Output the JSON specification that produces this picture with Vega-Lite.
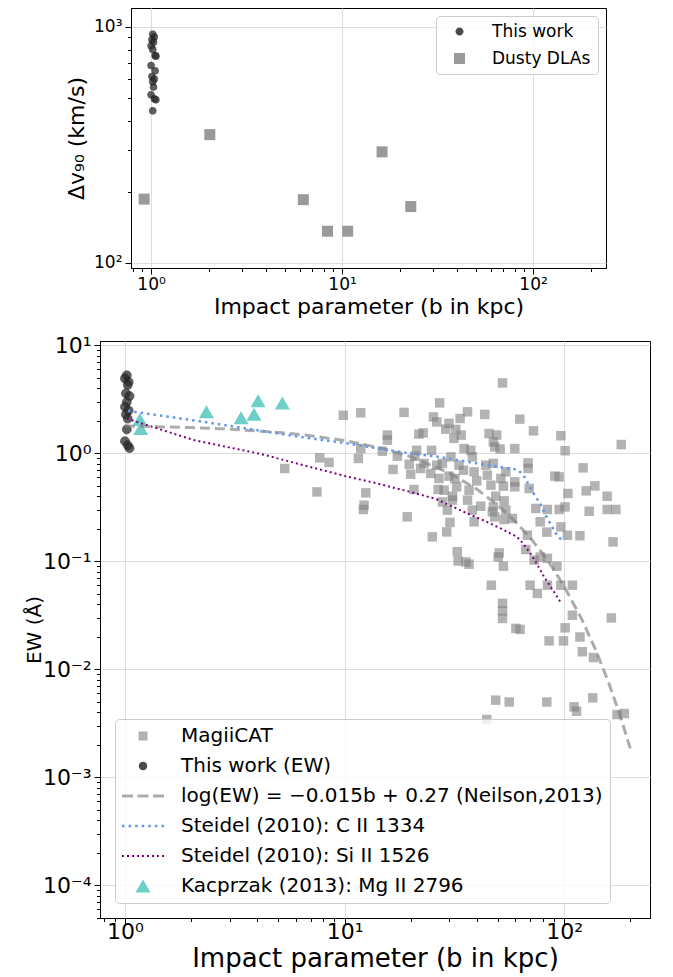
{
  "$schema": "https://vega.github.io/schema/vega-lite/v6.json",
  "padding": {"left": 24, "top": 7, "right": 5, "bottom": 3},
  "config": {
    "font": "DejaVu Sans",
    "view": {"stroke": "black", "strokeWidth": 1},
    "axis": {"domainColor": "black", "tickColor": "black", "labelColor": "black", "titleColor": "black", "gridColor": "#dddddd", "gridWidth": 1, "titleFontWeight": "normal", "labelOverlap": false, "labelFlush": false, "labelBound": false},
    "legend": {"labelColor": "black"}
  },
  "datasets": {
    "topWork": [{"b":1.02,"v":930},{"b":1.04,"v":905},{"b":1.01,"v":880},{"b":1.03,"v":860},{"b":1.0,"v":830},{"b":1.02,"v":800},{"b":1.05,"v":755},{"b":1.06,"v":750},{"b":1.0,"v":685},{"b":1.05,"v":650},{"b":1.01,"v":615},{"b":1.04,"v":600},{"b":1.02,"v":585},{"b":1.03,"v":555},{"b":1.0,"v":515},{"b":1.04,"v":495},{"b":1.06,"v":490},{"b":1.02,"v":440}],
    "topDLA": [{"b":0.92,"v":186},{"b":2.03,"v":349},{"b":6.27,"v":185},{"b":8.39,"v":136},{"b":10.7,"v":136},{"b":16.2,"v":295},{"b":22.9,"v":173}],
    "thisEW": [{"b":1.02,"ew":5.3},{"b":1.0,"ew":4.95},{"b":1.04,"ew":4.6},{"b":1.03,"ew":4.3},{"b":1.01,"ew":3.6},{"b":1.05,"ew":3.4},{"b":1.02,"ew":3.0},{"b":1.0,"ew":2.7},{"b":1.04,"ew":2.5},{"b":1.01,"ew":2.3},{"b":1.03,"ew":2.1},{"b":1.02,"ew":1.67},{"b":1.0,"ew":1.3},{"b":1.03,"ew":1.19},{"b":1.05,"ew":1.12}],
    "kac": [{"b":1.17,"ew":2.06},{"b":1.18,"ew":1.70},{"b":2.35,"ew":2.43},{"b":3.38,"ew":2.14},{"b":3.87,"ew":2.31},{"b":4.04,"ew":3.07},{"b":5.21,"ew":2.94}],
    "neilson": [{"b":1,"ew":1.799},{"b":2,"ew":1.738},{"b":3,"ew":1.679},{"b":5,"ew":1.567},{"b":7,"ew":1.462},{"b":10,"ew":1.318},{"b":15,"ew":1.109},{"b":20,"ew":0.933},{"b":30,"ew":0.661},{"b":40,"ew":0.468},{"b":50,"ew":0.331},{"b":60,"ew":0.234},{"b":70,"ew":0.166},{"b":80,"ew":0.1175},{"b":90,"ew":0.0832},{"b":100,"ew":0.0589},{"b":120,"ew":0.0295},{"b":140,"ew":0.01479},{"b":160,"ew":0.00741},{"b":180,"ew":0.00372},{"b":200,"ew":0.00186}],
    "c2": [{"b":1.03,"ew":2.48},{"b":2.3,"ew":1.96},{"b":5.9,"ew":1.45},{"b":10,"ew":1.25},{"b":16,"ew":1.07},{"b":20,"ew":1.0},{"b":26,"ew":0.94},{"b":40,"ew":0.81},{"b":53,"ew":0.74},{"b":61,"ew":0.71},{"b":65,"ew":0.64},{"b":69,"ew":0.51},{"b":74,"ew":0.40},{"b":78,"ew":0.34},{"b":83,"ew":0.26},{"b":92,"ew":0.18},{"b":98,"ew":0.155}],
    "si2": [{"b":1.02,"ew":2.1},{"b":2.06,"ew":1.33},{"b":4.15,"ew":0.99},{"b":10,"ew":0.62},{"b":14,"ew":0.53},{"b":20,"ew":0.44},{"b":26,"ew":0.38},{"b":36,"ew":0.28},{"b":44,"ew":0.235},{"b":52,"ew":0.2},{"b":61,"ew":0.169},{"b":65,"ew":0.147},{"b":71,"ew":0.115},{"b":78,"ew":0.083},{"b":81,"ew":0.072},{"b":89,"ew":0.054},{"b":97,"ew":0.041}],
    "magii": [
      {"b":5.34,"ew":0.726},{"b":7.49,"ew":0.441},{"b":7.71,"ew":0.911},{"b":8.5,"ew":0.826},{"b":9.87,"ew":2.26},{"b":11.85,"ew":2.38},{"b":11.56,"ew":0.899},{"b":11.85,"ew":1.11},{"b":12.5,"ew":0.432},{"b":12.27,"ew":0.332},{"b":12.18,"ew":0.303},{"b":14.86,"ew":1.05},{"b":15.67,"ew":1.48},{"b":15.67,"ew":1.33},{"b":16.63,"ew":0.711},{"b":18.66,"ew":2.4},{"b":21.8,"ew":1.51},{"b":22.8,"ew":1.55},{"b":17.4,"ew":0.944},{"b":19.7,"ew":0.796},{"b":21.3,"ew":1.07},{"b":20.9,"ew":0.944},{"b":20.0,"ew":0.643},{"b":22.2,"ew":0.726},{"b":23.0,"ew":0.808},{"b":24.9,"ew":1.07},{"b":24.7,"ew":0.653},{"b":20.7,"ew":0.464},{"b":19.3,"ew":0.259},{"b":25.4,"ew":2.18},{"b":25.1,"ew":0.169},{"b":52.4,"ew":4.5},{"b":27.1,"ew":2.94},{"b":36.3,"ew":2.43},{"b":43.5,"ew":2.3},{"b":26.3,"ew":1.96},{"b":29.9,"ew":1.9},{"b":28.9,"ew":1.68},{"b":33.6,"ew":2.11},{"b":32.1,"ew":1.67},{"b":34.0,"ew":1.48},{"b":31.5,"ew":1.38},{"b":45.5,"ew":1.53},{"b":49.3,"ew":1.48},{"b":47.6,"ew":1.28},{"b":48.3,"ew":1.15},{"b":51.1,"ew":1.10},{"b":62.8,"ew":2.08},{"b":72.5,"ew":1.62},{"b":59.6,"ew":1.11},{"b":35.0,"ew":1.11},{"b":37.6,"ew":1.07},{"b":38.2,"ew":0.93},{"b":30.5,"ew":0.93},{"b":27.9,"ew":0.81},{"b":33.2,"ew":0.78},{"b":34.8,"ew":0.70},{"b":38.9,"ew":0.676},{"b":26.3,"ew":0.78},{"b":26.9,"ew":0.587},{"b":29.9,"ew":0.617},{"b":31.8,"ew":0.587},{"b":44.0,"ew":0.78},{"b":47.6,"ew":0.81},{"b":44.7,"ew":0.63},{"b":40.0,"ew":0.557},{"b":51.5,"ew":0.587},{"b":54.3,"ew":0.676},{"b":68.5,"ew":0.818},{"b":68.5,"ew":0.726},{"b":59.6,"ew":0.546},{"b":59.6,"ew":0.491},{"b":69.3,"ew":0.474},{"b":46.4,"ew":0.509},{"b":52.9,"ew":0.498},{"b":32.4,"ew":0.491},{"b":36.9,"ew":0.457},{"b":26.7,"ew":0.464},{"b":28.4,"ew":0.457},{"b":31.0,"ew":0.402},{"b":31.0,"ew":0.37},{"b":48.8,"ew":0.402},{"b":53.3,"ew":0.364},{"b":27.9,"ew":0.356},{"b":36.3,"ew":0.37},{"b":41.7,"ew":0.325},{"b":47.6,"ew":0.32},{"b":47.1,"ew":0.288},{"b":54.3,"ew":0.299},{"b":29.4,"ew":0.299},{"b":38.2,"ew":0.299},{"b":48.3,"ew":0.259},{"b":53.3,"ew":0.245},{"b":58.1,"ew":0.25},{"b":38.9,"ew":0.233},{"b":30.2,"ew":0.23},{"b":29.2,"ew":0.188},{"b":68.0,"ew":0.175},{"b":74.3,"ew":0.31},{"b":77.8,"ew":0.233},{"b":96.6,"ew":1.46},{"b":101,"ew":1.06},{"b":182,"ew":1.21},{"b":122,"ew":0.736},{"b":90.7,"ew":0.617},{"b":94.9,"ew":0.607},{"b":138,"ew":0.501},{"b":126,"ew":0.451},{"b":104,"ew":0.426},{"b":157,"ew":0.402},{"b":83.9,"ew":0.303},{"b":94.9,"ew":0.303},{"b":101,"ew":0.32},{"b":130,"ew":0.292},{"b":157,"ew":0.303},{"b":172,"ew":0.303},{"b":96.6,"ew":0.209},{"b":83.4,"ew":0.187},{"b":103.5,"ew":0.175},{"b":118,"ew":0.173},{"b":167,"ew":0.152},{"b":32.6,"ew":0.123},{"b":32.9,"ew":0.101},{"b":35.7,"ew":0.099},{"b":36.9,"ew":0.0944},{"b":50.6,"ew":0.120},{"b":50.1,"ew":0.110},{"b":52.9,"ew":0.0905},{"b":46.6,"ew":0.0603},{"b":70.0,"ew":0.0603},{"b":75.5,"ew":0.0506},{"b":52.4,"ew":0.0409},{"b":52.4,"ew":0.0349},{"b":52.4,"ew":0.0297},{"b":60.3,"ew":0.024},{"b":63.0,"ew":0.0235},{"b":48.8,"ew":0.0052},{"b":56.2,"ew":0.0050},{"b":83.4,"ew":0.0050},{"b":44.4,"ew":0.00344},{"b":66.9,"ew":0.129},{"b":73.0,"ew":0.103},{"b":77.8,"ew":0.110},{"b":83.9,"ew":0.107},{"b":92.7,"ew":0.0905},{"b":83.9,"ew":0.0603},{"b":96.6,"ew":0.0603},{"b":109,"ew":0.0603},{"b":109,"ew":0.0318},{"b":164,"ew":0.030},{"b":101,"ew":0.0243},{"b":85.4,"ew":0.0184},{"b":99.3,"ew":0.0184},{"b":118,"ew":0.020},{"b":121,"ew":0.0146},{"b":136,"ew":0.0129},{"b":135,"ew":0.00546},{"b":111,"ew":0.00451},{"b":114,"ew":0.00411},{"b":174,"ew":0.00383},{"b":188,"ew":0.00391}
    ],
    "legendTop": [],
    "legendBottom": []
  },
  "vconcat": [
    {
      "hconcat": [
        {"width": 1, "height": 260, "data": {"values": []}, "mark": "point", "view": {"stroke": null}},
        {
          "width": 475, "height": 260,
          "layer": [
            {
              "data": {"name": "topDLA"},
              "mark": {"type": "point", "shape": "square", "filled": true, "size": 121, "color": "#9a9a9a", "opacity": 1},
              "encoding": {
                "x": {"field": "b", "type": "quantitative", "scale": {"type": "log", "domain": [0.785, 241], "nice": false},
                  "axis": {"title": "Impact parameter (b in kpc)", "titleFontSize": 22, "titlePadding": 4,
                    "values": [0.8,0.9,1,2,3,4,5,6,7,8,9,10,20,30,40,50,60,70,80,90,100,200],
                    "labelExpr": "abs(log(datum.value)/LN10 - round(log(datum.value)/LN10)) < 0.001 ? '10' + replace(replace(replace(replace(replace(replace('' + round(log(datum.value)/LN10), '-', '⁻'), '0', '⁰'), '1', '¹'), '2', '²'), '3', '³'), '4', '⁴') : ''",
                    "labelFontSize": 17, "labelPadding": 2, "grid": true,
                    "gridOpacity": {"condition": {"test": "abs(log(datum.value)/LN10 - round(log(datum.value)/LN10)) < 0.001", "value": 1}, "value": 0},
                    "tickSize": {"condition": {"test": "abs(log(datum.value)/LN10 - round(log(datum.value)/LN10)) < 0.001", "value": 6}, "value": 3.5}}},
                "y": {"field": "v", "type": "quantitative", "scale": {"type": "log", "domain": [95, 1200], "nice": false},
                  "axis": {"title": "Δv₉₀ (km/s)", "titleFontSize": 22, "titlePadding": 5,
                    "values": [100,200,300,400,500,600,700,800,900,1000],
                    "labelExpr": "abs(log(datum.value)/LN10 - round(log(datum.value)/LN10)) < 0.001 ? '10' + replace(replace(replace(replace(replace(replace('' + round(log(datum.value)/LN10), '-', '⁻'), '0', '⁰'), '1', '¹'), '2', '²'), '3', '³'), '4', '⁴') : ''",
                    "labelFontSize": 17, "labelPadding": 3, "grid": true,
                    "gridOpacity": {"condition": {"test": "abs(log(datum.value)/LN10 - round(log(datum.value)/LN10)) < 0.001", "value": 1}, "value": 0},
                    "tickSize": {"condition": {"test": "abs(log(datum.value)/LN10 - round(log(datum.value)/LN10)) < 0.001", "value": 6}, "value": 3.5}}}
              }
            },
            {
              "data": {"name": "topWork"},
              "mark": {"type": "point", "shape": "circle", "filled": true, "size": 49, "color": "#2a2a2a", "opacity": 0.75, "stroke": "#111111", "strokeWidth": 0.6},
              "encoding": {"x": {"field": "b", "type": "quantitative"}, "y": {"field": "v", "type": "quantitative"}}
            },
            {
              "data": {"name": "legendTop"},
              "mark": {"type": "point", "filled": true, "opacity": 1},
              "encoding": {
                "color": {"field": "series", "type": "nominal",
                  "scale": {"domain": ["This work", "Dusty DLAs"], "range": ["#4a4a4a", "#9a9a9a"]},
                  "legend": {"title": null, "orient": "top-right", "offset": 8, "padding": 7, "labelFontSize": 17, "rowPadding": 9,
                    "symbolSize": 100, "symbolStrokeWidth": 0, "symbolOpacity": 1,
                    "symbolOffset": 8, "labelOffset": 24, "labelLimit": 400, "strokeColor": "#cccccc", "fillColor": "rgba(255,255,255,0.8)", "cornerRadius": 4}},
                "shape": {"field": "series", "type": "nominal",
                  "scale": {"domain": ["This work", "Dusty DLAs"], "range": ["M0.8,0A0.8,0.8,0,1,1,-0.8,0A0.8,0.8,0,1,1,0.8,0Z", "M-1.1,-1.1H1.1V1.1H-1.1Z"]}}
              }
            }
          ]
        }
      ],
      "spacing": -36,
      "resolve": {"scale": {"color": "independent", "shape": "independent"}, "legend": {"color": "independent", "shape": "independent"}}
    },
    {
      "width": 550, "height": 577,
      "layer": [
        {
          "data": {"name": "magii"},
          "mark": {"type": "point", "shape": "square", "filled": true, "size": 90, "color": "gray", "opacity": 0.6},
          "encoding": {
            "x": {"field": "b", "type": "quantitative", "scale": {"type": "log", "domain": [0.77, 246], "nice": false},
              "axis": {"title": "Impact parameter (b in kpc)", "titleFontSize": 26, "titlePadding": 3,
                "values": [0.8,0.9,1,2,3,4,5,6,7,8,9,10,20,30,40,50,60,70,80,90,100,200],
                "labelExpr": "abs(log(datum.value)/LN10 - round(log(datum.value)/LN10)) < 0.001 ? '10' + replace(replace(replace(replace(replace(replace('' + round(log(datum.value)/LN10), '-', '⁻'), '0', '⁰'), '1', '¹'), '2', '²'), '3', '³'), '4', '⁴') : ''",
                "labelFontSize": 22, "labelPadding": -2.5, "grid": true,
                "gridOpacity": {"condition": {"test": "abs(log(datum.value)/LN10 - round(log(datum.value)/LN10)) < 0.001", "value": 1}, "value": 0},
                "tickSize": {"condition": {"test": "abs(log(datum.value)/LN10 - round(log(datum.value)/LN10)) < 0.001", "value": 6}, "value": 3.5}}},
            "y": {"field": "ew", "type": "quantitative", "scale": {"type": "log", "domain": [0.00005, 11], "nice": false},
              "axis": {"title": "EW (Å)", "titleFontSize": 20, "titlePadding": -2,
                "values": [0.00005,0.00006,0.00007,0.00008,0.00009,0.0001,0.0002,0.0003,0.0004,0.0005,0.0006,0.0007,0.0008,0.0009,0.001,0.002,0.003,0.004,0.005,0.006,0.007,0.008,0.009,0.01,0.02,0.03,0.04,0.05,0.06,0.07,0.08,0.09,0.1,0.2,0.3,0.4,0.5,0.6,0.7,0.8,0.9,1,2,3,4,5,6,7,8,9,10],
                "labelExpr": "abs(log(datum.value)/LN10 - round(log(datum.value)/LN10)) < 0.001 ? '10' + replace(replace(replace(replace(replace(replace('' + round(log(datum.value)/LN10), '-', '⁻'), '0', '⁰'), '1', '¹'), '2', '²'), '3', '³'), '4', '⁴') : ''",
                "labelFontSize": 22, "labelPadding": 3, "grid": true,
                "gridOpacity": {"condition": {"test": "abs(log(datum.value)/LN10 - round(log(datum.value)/LN10)) < 0.001", "value": 1}, "value": 0},
                "tickSize": {"condition": {"test": "abs(log(datum.value)/LN10 - round(log(datum.value)/LN10)) < 0.001", "value": 6}, "value": 3.5}}}
          }
        },
        {
          "data": {"name": "thisEW"},
          "mark": {"type": "point", "shape": "circle", "filled": true, "size": 81, "color": "#2a2a2a", "opacity": 0.75, "stroke": "#111111", "strokeWidth": 0.6},
          "encoding": {"x": {"field": "b", "type": "quantitative"}, "y": {"field": "ew", "type": "quantitative"}}
        },
        {
          "data": {"name": "kac"},
          "mark": {"type": "point", "shape": "triangle-up", "filled": true, "size": 225, "color": "#6dcfc8", "opacity": 1},
          "encoding": {"x": {"field": "b", "type": "quantitative"}, "y": {"field": "ew", "type": "quantitative"}}
        },
        {
          "data": {"name": "neilson"},
          "mark": {"type": "line", "color": "gray", "opacity": 0.65, "strokeWidth": 3, "strokeDash": [10, 5]},
          "encoding": {"x": {"field": "b", "type": "quantitative"}, "y": {"field": "ew", "type": "quantitative"}}
        },
        {
          "data": {"name": "c2"},
          "mark": {"type": "line", "color": "cornflowerblue", "strokeWidth": 2.5, "strokeDash": [2.5, 4]},
          "encoding": {"x": {"field": "b", "type": "quantitative"}, "y": {"field": "ew", "type": "quantitative"}}
        },
        {
          "data": {"name": "si2"},
          "mark": {"type": "line", "color": "purple", "strokeWidth": 2, "strokeDash": [2, 3]},
          "encoding": {"x": {"field": "b", "type": "quantitative"}, "y": {"field": "ew", "type": "quantitative"}}
        },
        {
          "data": {"name": "legendBottom"},
          "mark": {"type": "point", "filled": true, "opacity": 1},
          "encoding": {
            "color": {"field": "series", "type": "nominal",
              "scale": {"domain": ["MagiiCAT", "This work (EW)", "log(EW) = −0.015b + 0.27 (Neilson,2013)", "Steidel (2010): C II 1334", "Steidel (2010): Si II 1526", "Kacprzak (2013): Mg II 2796"],
                "range": ["#b3b3b3", "#4a4a4a", "#acacac", "#6495ed", "#800080", "#6dcfc8"]},
              "legend": {"title": null, "orient": "bottom-left", "offset": 15, "padding": 7, "labelFontSize": 20, "rowPadding": 10,
                "symbolSize": 100, "symbolStrokeWidth": 0, "symbolOpacity": 1,
                "symbolOffset": 11, "labelOffset": 28, "labelLimit": 600, "strokeColor": "#cccccc", "fillColor": "rgba(255,255,255,0.8)", "cornerRadius": 4}},
            "shape": {"field": "series", "type": "nominal",
              "scale": {"domain": ["MagiiCAT", "This work (EW)", "log(EW) = −0.015b + 0.27 (Neilson,2013)", "Steidel (2010): C II 1334", "Steidel (2010): Si II 1526", "Kacprzak (2013): Mg II 2796"],
                "range": [
                  "M-0.9,-0.9H0.9V0.9H-0.9Z",
                  "M0.85,0A0.85,0.85,0,1,1,-0.85,0A0.85,0.85,0,1,1,0.85,0Z",
                  "M-4.2,-0.3H-2.0V0.3H-4.2Z M-1.1,-0.3H1.1V0.3H-1.1Z M2.0,-0.3H4.2V0.3H2.0Z",
                  "M-4.2,-0.25h0.5v0.5h-0.5Z M-2.883,-0.25h0.5v0.5h-0.5Z M-1.567,-0.25h0.5v0.5h-0.5Z M-0.25,-0.25h0.5v0.5h-0.5Z M1.067,-0.25h0.5v0.5h-0.5Z M2.383,-0.25h0.5v0.5h-0.5Z M3.7,-0.25h0.5v0.5h-0.5Z",
                  "M-4.2,-0.2h0.4v0.4h-0.4Z M-3.2,-0.2h0.4v0.4h-0.4Z M-2.2,-0.2h0.4v0.4h-0.4Z M-1.2,-0.2h0.4v0.4h-0.4Z M-0.2,-0.2h0.4v0.4h-0.4Z M0.8,-0.2h0.4v0.4h-0.4Z M1.8,-0.2h0.4v0.4h-0.4Z M2.8,-0.2h0.4v0.4h-0.4Z M3.8,-0.2h0.4v0.4h-0.4Z",
                  "M0,-1.3L1.5,1.3L-1.5,1.3Z"
                ]}}
          }
        }
      ]
    }
  ],
  "spacing": 15,
  "resolve": {"scale": {"color": "independent", "shape": "independent"}, "legend": {"color": "independent", "shape": "independent"}}
}
